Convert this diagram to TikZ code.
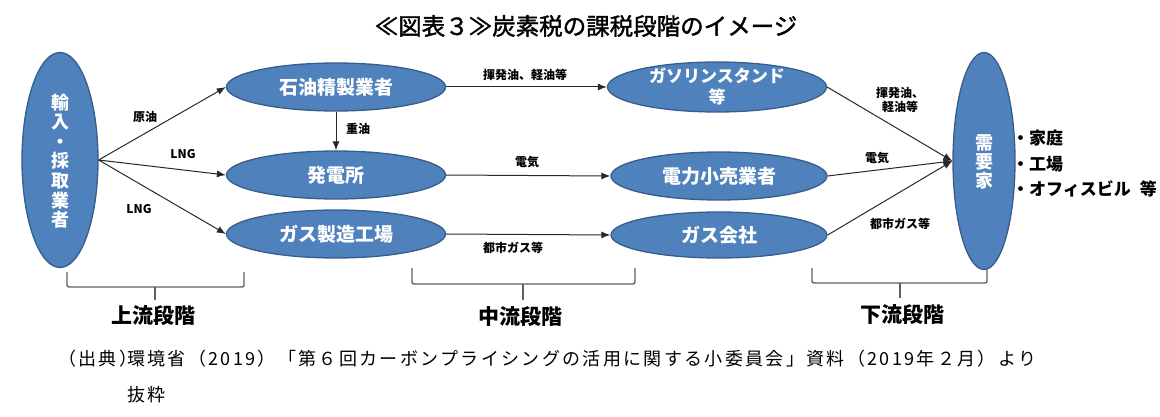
\documentclass[tikz,border=0pt]{standalone}
\usepackage{fontspec}
\newfontfamily\jp{Noto Sans CJK JP}
\newfontfamily\jpt[FakeBold=1.6]{Noto Sans CJK JP}
\newfontfamily\jpsrc[LetterSpace=13]{Noto Sans CJK JP}
\usetikzlibrary{shapes.geometric,arrows.meta}
\definecolor{fblue}{RGB}{79,129,189}
\definecolor{eblue}{RGB}{56,93,138}
\definecolor{lgray}{RGB}{40,40,40}
\definecolor{bgray}{RGB}{95,95,95}
\begin{document}
\begin{tikzpicture}[x=1pt,y=-1pt,
  ell/.style={ellipse, draw=eblue, line width=1.3pt, fill=fblue, inner sep=0pt},
  etxt/.style={text=white, font=\jp\bfseries\fontsize{19}{21}\selectfont, align=center, inner sep=0pt},
  vtxt/.style={text=white, font=\jp\bfseries\fontsize{18}{19.6}\selectfont, align=center, inner sep=0pt},
  arr/.style={draw=lgray, line width=1pt, -{Latex[length=9pt,width=7pt]}},
  elab/.style={font=\jp\bfseries\fontsize{12}{14}\selectfont, align=center, inner sep=0pt},
  bracket/.style={draw=bgray, line width=1.4pt, rounded corners=2pt},
  stage/.style={font=\jp\bfseries\fontsize{21}{23}\selectfont, inner sep=0pt},
  listtxt/.style={font=\jp\bfseries\fontsize{17}{19}\selectfont, anchor=west, inner sep=0pt},
  srctxt/.style={font=\jpsrc\fontsize{18}{20}\selectfont, anchor=west, inner sep=0pt}]
\useasboundingbox (0,0) rectangle (1160,417);

% title
\node[font=\jpt\fontsize{23.5}{26}\selectfont, inner sep=0pt] (title) at (586,26) {≪図表３≫炭素税の課税段階のイメージ};

% ellipses
\node[ell, minimum width=76pt, minimum height=215pt] (imp) at (60,160) {};
\node[vtxt] (impt) at (60,161) {輸\\入\\・\\採\\取\\業\\者};

\node[ell, minimum width=219pt, minimum height=48pt] (sek) at (336,87) {};
\node[etxt] (sekt) at (sek) {石油精製業者};
\node[ell, minimum width=219pt, minimum height=48pt] (hat) at (336,175) {};
\node[etxt] (hatt) at (hat) {発電所};
\node[ell, minimum width=219pt, minimum height=48pt] (gsz) at (336,234) {};
\node[etxt] (gszt) at (gsz) {ガス製造工場};

\node[ell, minimum width=219pt, minimum height=50pt] (gst) at (717,87) {};
\node[etxt, font=\jp\bfseries\fontsize{17}{21}\selectfont] (gstt) at (717,87) {ガソリンスタンド\\等};
\node[ell, minimum width=216pt, minimum height=48pt] (den) at (719,176) {};
\node[etxt] (dent) at (den) {電力小売業者};
\node[ell, minimum width=216pt, minimum height=46pt] (gkr) at (719,235) {};
\node[etxt] (gkrt) at (gkr) {ガス会社};

\node[ell, minimum width=62pt, minimum height=217pt] (dem) at (984,161) {};
\node[vtxt, font=\jp\bfseries\fontsize{18}{19}\selectfont] (demt) at (984,162) {需\\要\\家};

% arrows
\draw[arr] (imp.east) -- (sek.west);
\draw[arr] (imp.east) -- (hat.west);
\draw[arr] (imp.east) -- (gsz.west);
\draw[arr] (sek.south) -- (hat.north);
\draw[arr] (sek.east) -- (gst.west);
\draw[arr] (hat.east) -- (den.west);
\draw[arr] (gsz.east) -- (gkr.west);
\draw[arr] (gst.east) -- (dem.west);
\draw[arr] (den.east) -- (dem.west);
\draw[arr] (gkr.east) -- (dem.west);

% edge labels
\node[elab] (l1) at (145,117) {原油};
\node[elab] (l2) at (183,154) {LNG};
\node[elab] (l3) at (139,209) {LNG};
\node[elab] (l4) at (358,129) {重油};
\node[elab] (l5) at (525,75) {揮発油、軽油等};
\node[elab] (l6) at (527,162) {電気};
\node[elab] (l7) at (513,248) {都市ガス等};
\node[elab] (l8) at (900,100) {揮発油、\\軽油等};
\node[elab] (l9) at (877,158) {電気};
\node[elab] (l10) at (900,224) {都市ガス等};

% list
\node[listtxt] (li1) at (1012,138) {・家庭};
\node[listtxt] (li2) at (1012,164) {・工場};
\node[listtxt] (li3) at (1012,189) {・オフィスビル\hspace{9pt}等};

% brackets
\draw[bracket] (67,272) -- (67,287) -- (244,287) -- (244,272);
\draw[bracket] (155,287) -- (155,300);
\draw[bracket] (412,268) -- (412,284) -- (635,284) -- (635,268);
\draw[bracket] (523,284) -- (523,300);
\draw[bracket] (812,268) -- (812,283) -- (987,283) -- (987,268);
\draw[bracket] (900,283) -- (900,298);

\node[stage] (s1) at (153,316) {上流段階};
\node[stage] (s2) at (520,317) {中流段階};
\node[stage] (s3) at (902,315) {下流段階};

% source
\node[srctxt] (src0) at (58,359) {（出典）};
\node[srctxt] (src1) at (127,359) {環境省（2019）「第６回カーボンプライシングの活用に関する小委員会」資料（2019年２月）より};
\node[srctxt] (src2) at (127,395) {抜粋};
\end{tikzpicture}
\end{document}
